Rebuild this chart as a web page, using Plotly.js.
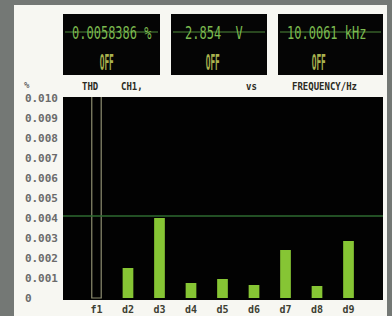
<!DOCTYPE html>
<html><head><meta charset="utf-8">
<script src="https://cdn.plot.ly/plotly-3.0.1.min.js"></script>
<style>
html,body{margin:0;padding:0;width:392px;height:316px;overflow:hidden;background:#747875;}
#chart{position:absolute;left:14px;top:5px;width:373px;height:311px;}
</style></head><body>
<div id="chart"></div>
<script>
// ---- data ----
var harmonics = ['f1','d2','d3','d4','d5','d6','d7','d8','d9'];
var fundamental = [0.0105];           // off-scale fundamental (outlined bar)
var distortion = [0.0015,0.0040,0.00075,0.00095,0.00065,0.0024,0.0006,0.00285];
var limitLine = 0.0041;
var yTickVals = [0,0.001,0.002,0.003,0.004,0.005,0.006,0.007,0.008,0.009,0.010];
var yTickText = ['0\u00a0\u00a0\u00a0\u00a0','0.001','0.002','0.003','0.004','0.005','0.006','0.007','0.008','0.009','0.010'];
var readouts = ['0.0058386 %','2.854\u00a0\u00a0V','10.0061 kHz'];
var readoutState = ['OFF','OFF','OFF'];
var headerLabels = ['%','THD','CH1,','vs','FREQUENCY/Hz'];

// ---- layout helpers (page pixel -> paper) ----
function px(x){return (x-63)/320;}
function py(y){return (300-y)/203;}

var traces = [
  {type:'bar', x:[harmonics[0]], y:fundamental, width:0.3,
   marker:{color:'rgba(0,0,0,0)', line:{color:'#8d8d70', width:1.2}}, hoverinfo:'skip'},
  {type:'bar', x:harmonics.slice(1), y:distortion, width:0.34,
   marker:{color:'#86c534', line:{width:0}}, hoverinfo:'skip'}
];

var boxes = [[63,160],[171,267],[278,383]];
var readoutX = [111.5,213.5,326.5];
var offX = [107,212.5,319];
var shapes = [
  {type:'line', xref:'paper', yref:'y', x0:0, x1:1, y0:limitLine, y1:limitLine,
   line:{color:'#2e6a30', width:1.5}, layer:'above'}
];
var annotations = [];
var stretch = [];
boxes.forEach(function(b,i){
  shapes.push({type:'rect', xref:'paper', yref:'paper', x0:px(b[0]), x1:px(b[1]), y0:py(75), y1:py(14),
    fillcolor:'#050505', line:{width:0}});
  shapes.push({type:'line', xref:'paper', yref:'paper', x0:px(b[0]+2), x1:px(b[1]-2), y0:py(32), y1:py(32),
    line:{color:'#4f8a3a', width:1}});
  annotations.push({xref:'paper', yref:'paper', x:px(readoutX[i]), y:py(33), text:readouts[i], showarrow:false,
    xanchor:'center', yanchor:'middle',
    font:{family:'DejaVu Sans Mono, monospace', size:12, color:'#7cba50'}});
  stretch.push([1.0,1.4]);
  annotations.push({xref:'paper', yref:'paper', x:px(offX[i]), y:py(62.5), text:readoutState[i], showarrow:false,
    xanchor:'center', yanchor:'middle',
    font:{family:'DejaVu Sans Mono, monospace', size:13, weight:'bold', color:'#a9b24e'}});
  stretch.push([0.6,1.6]);
});
var hdrX = [27,90,132,251,324];
var hdrY = [85,87,87,87,87];
headerLabels.forEach(function(t,i){
  annotations.push({xref:'paper', yref:'paper', x:px(hdrX[i]), y:py(hdrY[i]), text:t, showarrow:false,
    xanchor:'center', yanchor:'middle',
    font:{family:'DejaVu Sans Mono, monospace', size:9, weight:'bold', color:(i===0?'#666':'#2a2a22')}});
  stretch.push(i===0?[1,1]:[1,1.15]);
});

var layout = {
  width:373, height:311,
  margin:{l:49, r:4, t:92, b:16, pad:0},
  paper_bgcolor:'#f7f7f2', plot_bgcolor:'#020202',
  showlegend:false, barmode:'overlay',
  xaxis:{type:'category', categoryorder:'array', categoryarray:harmonics, range:[-1.063,9.095],
    showgrid:false, zeroline:false, showline:false, ticks:'', fixedrange:true, ticklabelstandoff:2,
    tickfont:{family:'DejaVu Sans Mono, monospace', size:10, weight:'bold', color:'#3e3f33'}},
  yaxis:{range:[-0.0001,0.01005], tickvals:yTickVals, ticktext:yTickText,
    showgrid:false, zeroline:false, showline:false, ticks:'', ticklabelstandoff:4,
    tickfont:{family:'DejaVu Sans Mono, monospace', size:11, weight:'bold', color:'#6b6b6b'}},
  shapes:shapes, annotations:annotations
};
Plotly.newPlot('chart', traces, layout, {displayModeBar:false, staticPlot:true}).then(function(gd){
  // display-font look: stretch annotation glyphs around their centres
  var nodes = gd.querySelectorAll('.annotation');
  nodes.forEach(function(g, k){
    var s = stretch[k]; if(!s) return;
    var t = g.querySelector('text.annotation-text'); if(!t) return;
    var bb = t.getBBox();
    var cx = bb.x + bb.width/2, cy = bb.y + bb.height/2;
    t.setAttribute('transform','translate('+cx+','+cy+') scale('+s[0]+','+s[1]+') translate('+(-cx)+','+(-cy)+')');
  });
});
</script>
</body></html>
